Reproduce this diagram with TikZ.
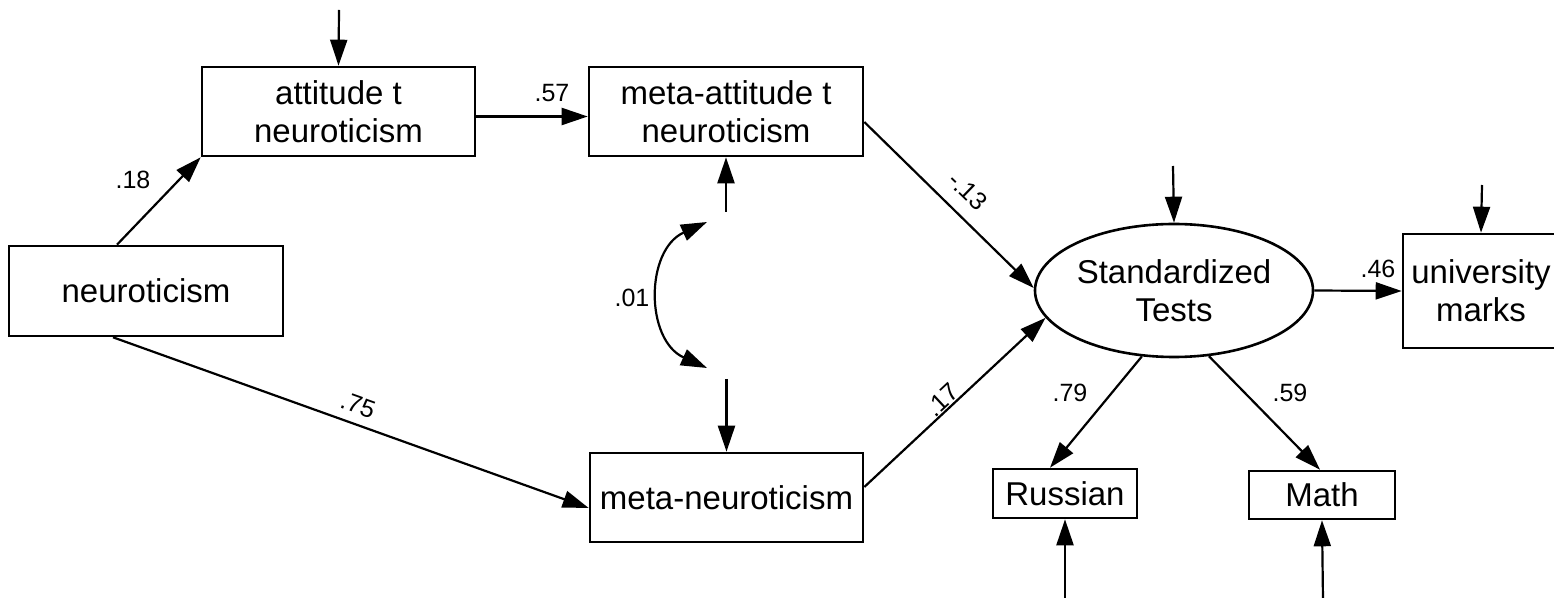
\documentclass[tikz,border=0pt]{standalone}
\usepackage{fontspec}
\setmainfont{Liberation Sans}
\usetikzlibrary{shapes.geometric,arrows.meta}
\begin{document}
\begin{tikzpicture}[x=0.5pt,y=-0.5pt,
 box/.style={draw,line width=1.3pt,inner sep=0pt,align=center,font=\fontsize{16.5}{19}\selectfont},
 lbl/.style={inner sep=0pt,font=\fontsize{12.5}{14}\selectfont},
 arr/.style={line width=1.1pt,-{Triangle[length=13pt,width=8.5pt]}},
 dbl/.style={line width=1.1pt,{Triangle[length=13pt,width=8.5pt]}-{Triangle[length=13pt,width=8.5pt]}}]
\useasboundingbox (0,0) rectangle (1554,598);
% boxes
\node[box,minimum width=136.5pt,minimum height=44.5pt] (att) at (338.5,111.5) {attitude t\\neuroticism};
\node[box,minimum width=137pt,minimum height=44.5pt] (ma) at (726,111.5) {meta-attitude t\\neuroticism};
\node[box,minimum width=137pt,minimum height=45pt] (neu) at (146,291) {neuroticism};
\node[box,minimum width=136.5pt,minimum height=44.5pt] (mn) at (726.5,497.5) {meta-neuroticism};
\node[box,ellipse,minimum width=139pt,minimum height=66.5pt] (st) at (1174,290.5) {Standardized\\Tests};
\node[box,minimum width=78pt,minimum height=57pt] (um) at (1481,291) {university\\marks};
\node[box,minimum width=72pt,minimum height=24.5pt] (ru) at (1065,493.5) {Russian};
\node[box,minimum width=73pt,minimum height=24pt] (mt) at (1322,495) {Math};
% free ends
\coordinate (tA) at (339,10);
\coordinate (tS) at (1173,166);
\coordinate (tU) at (1482,185);
\coordinate (bR) at (1065,600);
\coordinate (bM) at (1323,600);
\coordinate (e1) at (726,212);
\coordinate (e2) at (726.5,379);
\coordinate (c1) at (707,222);
\coordinate (c2) at (707,368);
% connectors
\draw[arr] (tA) -- (att.north);
\draw[arr] (tS) -- (st.north);
\draw[arr] (tU) -- (um.north);
\draw[arr] (bR) -- (ru.south);
\draw[arr] (bM) -- (mt.south);
\draw[arr] (e1) -- (ma.south);
\draw[arr] (e2) -- (mn.north);
\draw[arr] ([xshift=-14.5pt]neu.north) -- (att.south west);
\draw[arr] ([yshift=-2.5pt]att.east) -- ([yshift=-2.5pt]ma.west);
\draw[arr] ([xshift=-16.5pt]neu.south) -- ([yshift=-5.25pt]mn.west);
\draw[arr] ([yshift=-5.25pt]ma.east) -- (st.179);
\draw[arr] ([yshift=5.25pt]mn.east) -- (st.192);
\draw[arr] (st.east) -- (um.west);
\draw[arr] (st.244) -- ([xshift=-7.5pt]ru.north);
\draw[arr] (st.298) -- ([xshift=-1pt]mt.north);
\draw[dbl] (c1) .. controls (645,250) and (645,340) .. (c2);
% labels
\node[lbl] (l57) at (552,93) {.57};
\node[lbl] (l18) at (133,180) {.18};
\node[lbl,rotate=-19.8] (l75) at (358,405) {.75};
\node[lbl,rotate=-44] (l13) at (968,191) {-.13};
\node[lbl,rotate=43] (l17) at (942,400) {.17};
\node[lbl] (l01) at (632,298) {.01};
\node[lbl] (l79) at (1070,393) {.79};
\node[lbl] (l59) at (1290,393) {.59};
\node[lbl] (l46) at (1378,269) {.46};
\end{tikzpicture}
\end{document}
